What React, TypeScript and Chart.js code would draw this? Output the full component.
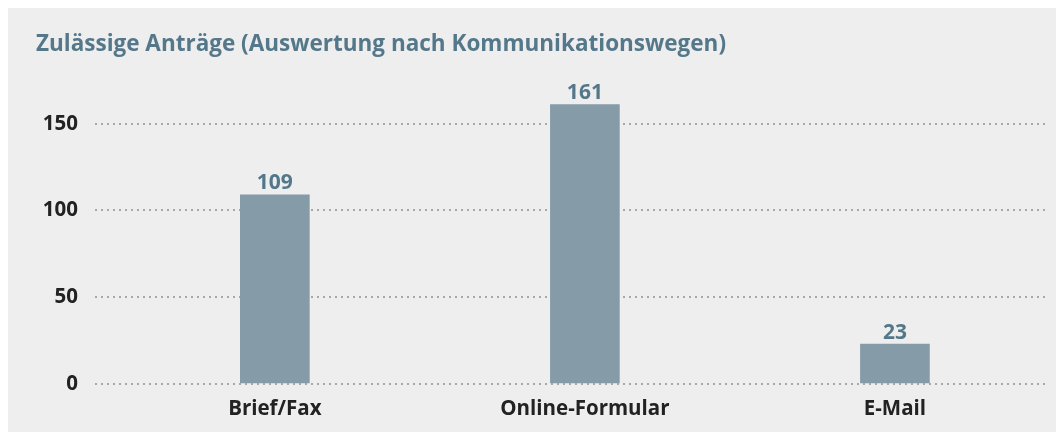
import React, { useEffect, useRef } from "react";
import { Chart, registerables } from "chart.js";

Chart.register(...registerables);

const TITLE = "Zulässige Anträge (Auswertung nach Kommunikationswegen)";
const categories = ["Brief/Fax", "Online-Formular", "E-Mail"];
const values = [109, 161, 23];
const yTicks = [0, 50, 100, 150];

const FONT = "'Open Sans', 'DejaVu Sans', sans-serif";
const TITLE_COLOR = "#54788a";
const BAR_COLOR = "#859ba8";
const LABEL_COLOR = "#222222";

const valueLabels = {
  id: "valueLabels",
  afterDatasetsDraw(chart: any) {
    const ctx = chart.ctx;
    const meta = chart.getDatasetMeta(0);
    ctx.save();
    ctx.font = `bold 21px ${FONT}`;
    ctx.fillStyle = TITLE_COLOR;
    ctx.textAlign = "center";
    ctx.textBaseline = "bottom";
    meta.data.forEach((bar: any, i: number) => {
      const v = chart.data.datasets[0].data[i];
      ctx.fillText(String(v.y), bar.x, bar.y - 1);
    });
    ctx.restore();
  },
};

export default function App() {
  const ref = useRef<HTMLCanvasElement | null>(null);
  useEffect(() => {
    document.documentElement.style.overflow = "hidden";
    const canvas = ref.current!;
    const chart = new Chart(canvas, {
      type: "bar",
      data: {
        datasets: [
          {
            data: values.map((v, i) => ({ x: i, y: v })),
            backgroundColor: BAR_COLOR,
            barThickness: 69,
            borderWidth: 0,
          },
        ],
      },
      options: {
        animation: false,
        responsive: false,
        maintainAspectRatio: false,
        layout: { padding: { left: 28, right: 11, top: 0, bottom: 0 } },
        plugins: {
          legend: { display: false },
          tooltip: { enabled: false },
          title: {
            display: true,
            text: TITLE,
            align: "start",
            color: TITLE_COLOR,
            font: { family: FONT, size: 22.5, weight: "bold", lineHeight: 1.2 },
            padding: { top: 23, bottom: 31 },
          },
        },
        scales: {
          x: {
            type: "linear",
            min: -0.58,
            max: 2.484,
            offset: false,
            afterBuildTicks: (scale: any) => {
              scale.ticks = categories.map((_, i) => ({ value: i }));
            },
            afterFit: (scale: any) => {
              scale.height = 48;
            },
            ticks: {
              autoSkip: false,
              maxRotation: 0,
              padding: 13,
              color: LABEL_COLOR,
              font: { family: FONT, size: 20.5, weight: "bold" },
              callback: (v: any) => categories[v] ?? "",
            },
            grid: { display: false, drawTicks: false },
            border: { display: false },
          },
          y: {
            min: 0,
            max: 170,
            afterBuildTicks: (scale: any) => {
              scale.ticks = yTicks.map((v) => ({ value: v }));
            },
            afterFit: (scale: any) => {
              scale.width = 59;
            },
            ticks: {
              padding: 17,
              color: LABEL_COLOR,
              font: { family: FONT, size: 20.5, weight: "bold" },
            },
            grid: {
              drawTicks: false,
              color: "#a8a8a8",
              lineWidth: 2,
            },
            border: { display: false, dash: [2, 4] },
          },
        },
      },
      plugins: [valueLabels],
    });
    return () => chart.destroy();
  }, []);
  return (
    <div style={{ background: "#eeeeee", width: 1048, height: 424 }}>
      <canvas ref={ref} width={1048} height={424} style={{ display: "block" }} />
    </div>
  );
}
